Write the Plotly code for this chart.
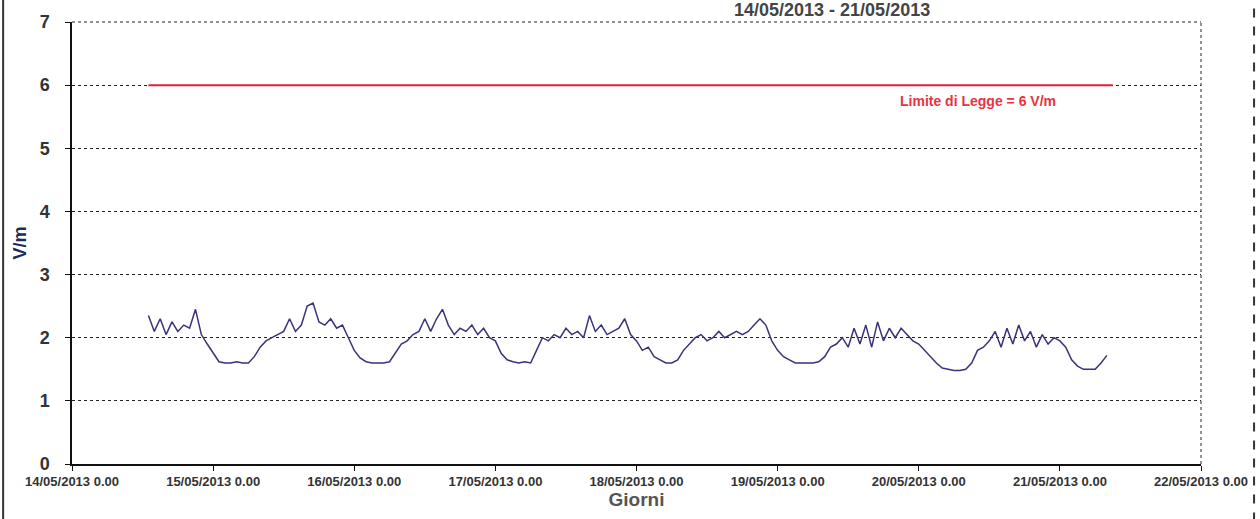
import pandas as pd
import plotly.graph_objects as go

# Hourly field values (V/m)
day14 = [2.35, 2.10, 2.30, 2.05, 2.25, 2.10, 2.20, 2.15, 2.45, 2.05, 1.90]  # 13:00-23:00
day15 = [1.75, 1.62, 1.60, 1.60, 1.62, 1.60, 1.60, 1.70, 1.85, 1.95, 2.00, 2.05,
         2.10, 2.30, 2.10, 2.20, 2.50, 2.55, 2.25, 2.20, 2.30, 2.15, 2.20, 2.00]
day16 = [1.80, 1.68, 1.62, 1.60, 1.60, 1.60, 1.62, 1.75, 1.90, 1.95, 2.05, 2.10,
         2.30, 2.10, 2.30, 2.45, 2.20, 2.05, 2.15, 2.10, 2.20, 2.05, 2.15, 2.00]
day17 = [1.95, 1.75, 1.65, 1.62, 1.60, 1.62, 1.60, 1.80, 2.00, 1.95, 2.05, 2.00,
         2.15, 2.05, 2.10, 2.00, 2.35, 2.10, 2.20, 2.05, 2.10, 2.15, 2.30, 2.05]
day18 = [1.95, 1.80, 1.85, 1.70, 1.65, 1.60, 1.60, 1.65, 1.80, 1.90, 2.00, 2.05,
         1.95, 2.00, 2.10, 2.00, 2.05, 2.10, 2.05, 2.10, 2.20, 2.30, 2.20, 1.95]
day19 = [1.80, 1.70, 1.65, 1.60, 1.60, 1.60, 1.60, 1.62, 1.70, 1.85, 1.90, 2.00,
         1.85, 2.15, 1.90, 2.20, 1.85, 2.25, 1.95, 2.15, 2.00, 2.15, 2.05, 1.95]
day20 = [1.90, 1.80, 1.70, 1.60, 1.52, 1.50, 1.48, 1.48, 1.50, 1.60, 1.80, 1.85,
         1.95, 2.10, 1.85, 2.15, 1.90, 2.20, 1.95, 2.10, 1.85, 2.05, 1.90, 2.00]
day21 = [1.95, 1.85, 1.65, 1.55, 1.50, 1.50, 1.50, 1.60, 1.72]  # 00:00-08:00

series_start = "2013-05-14 13:00"
limit_value = 6
limit_x = ["2013-05-14 13:00", "2013-05-21 09:00"]
limit_label = "Limite di Legge = 6 V/m"
title_text = "14/05/2013 - 21/05/2013"

tick_dates = pd.date_range("2013-05-14", "2013-05-22", freq="D")
tick_labels = [d.strftime("%d/%m/%Y") + " 0.00" for d in tick_dates]

values = day14 + day15 + day16 + day17 + day18 + day19 + day20 + day21
times = pd.date_range(series_start, periods=len(values), freq="h")

sans = "Liberation Sans, Arial, sans-serif"

fig = go.Figure()
fig.add_trace(go.Scatter(x=times, y=values, mode="lines",
                         line=dict(color="#38337a", width=1.5), showlegend=False))
fig.add_trace(go.Scatter(x=limit_x, y=[limit_value, limit_value], mode="lines",
                         line=dict(color="#e41e3f", width=2), showlegend=False))

fig.add_annotation(x="2013-05-20 10:00", y=5.75, text=limit_label, showarrow=False,
                   font=dict(family=sans, size=14, color="#e8323f", weight="bold"))
fig.add_annotation(x=0.673, xref="paper", xanchor="center", y=1.0, yref="paper",
                   yanchor="bottom", text=title_text, showarrow=False,
                   font=dict(family=sans, size=18, color="#444444", weight="bold"))

# frame shapes
fig.add_shape(type="line", xref="paper", yref="paper", x0=0, x1=1, y0=1, y1=1,
              line=dict(color="#222", width=1, dash="dot"))
fig.add_shape(type="line", xref="paper", yref="paper", x0=1, x1=1, y0=0, y1=1,
              line=dict(color="#222", width=1, dash="dot"))
fig.add_shape(type="line", xref="paper", yref="paper", x0=-0.061, x1=-0.061, y0=-0.13, y1=1.05,
              line=dict(color="#333", width=2))
fig.add_shape(type="line", xref="paper", yref="paper", x0=1.047, x1=1.047, y0=-0.13, y1=1.05,
              line=dict(color="#333", width=2, dash="dash"))

fig.update_layout(
    width=1260, height=519,
    margin=dict(l=72, r=55, t=18, b=55),
    paper_bgcolor="white", plot_bgcolor="white",
    xaxis=dict(type="date", range=[tick_dates[0], tick_dates[-1]],
               tickvals=tick_dates, ticktext=tick_labels,
               showgrid=False, showline=True, linecolor="#111", linewidth=1.5,
               ticks="outside", ticklen=5, tickcolor="#111",
               tickfont=dict(family=sans, size=13, color="#333", weight="bold"),
               title=dict(text="Giorni", standoff=0,
                          font=dict(family=sans, size=19, color="#555", weight="bold"))),
    yaxis=dict(range=[0, 7], dtick=1, tick0=0,
               showgrid=True, gridcolor="#222", gridwidth=1, griddash="dot",
               showline=True, linecolor="#111", linewidth=1.5,
               ticks="outside", ticklen=5, tickcolor="#111",
               ticklabelstandoff=12, zeroline=False,
               tickfont=dict(family=sans, size=18, color="#333", weight="bold"),
               title=dict(text="V/m", standoff=8,
                          font=dict(family=sans, size=18, color="#1d2b5a", weight="bold"))),
)

fig.write_html("out.html", config={"displayModeBar": False},
               post_script="document.body.style.margin='0';")
